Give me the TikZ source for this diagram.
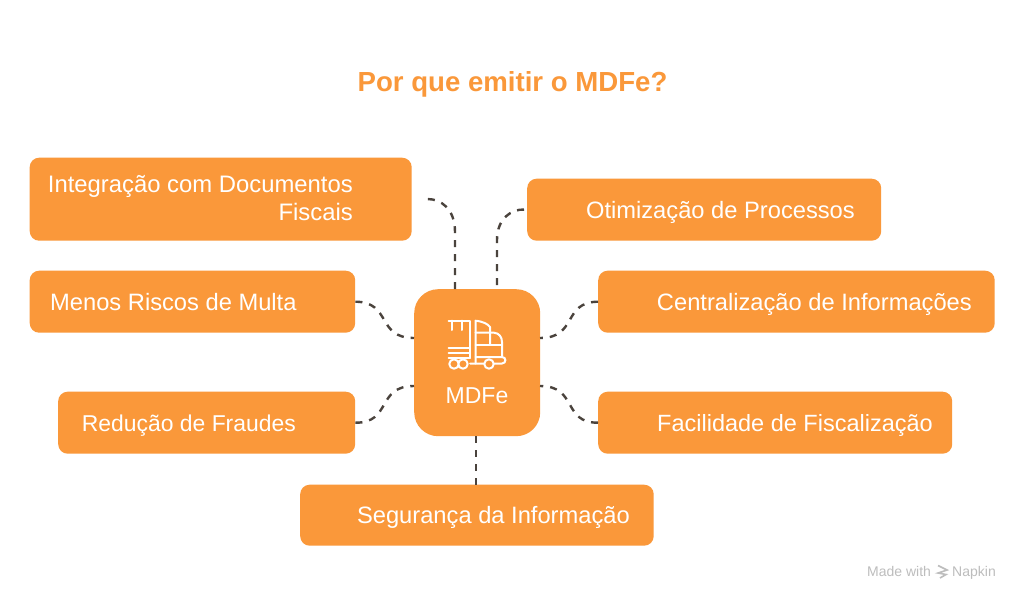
\documentclass[tikz,border=0pt]{standalone}
\usepackage{fontspec}
\setmainfont{Liberation Sans}
\definecolor{boxor}{HTML}{FA983A}
\definecolor{linedk}{HTML}{4A433D}
\definecolor{marktxt}{HTML}{BDBDBD}
\tikzset{
  boxnode/.style={fill=boxor,rounded corners=9.5pt,inner sep=0pt,anchor=north west},
  boxtext/.style={text=white,font=\fontsize{23.7}{28}\selectfont,inner sep=0pt,align=right},
  conn/.style={draw=linedk,line width=2.4pt,dash pattern=on 7pt off 7pt},
  iconline/.style={draw=white,line width=2pt,line join=round,line cap=round},
  marklabel/.style={text=marktxt,font=\fontsize{14}{16}\selectfont,inner sep=0pt,anchor=base west},
}
\begin{document}
\begin{tikzpicture}[x=1pt,y=-1pt]
\useasboundingbox (0,0) rectangle (1024,604);
\fill[white] (0,0) rectangle (1024,604);
\node[text=boxor,font=\bfseries\fontsize{27.6}{32}\selectfont,inner sep=0pt,anchor=base] (title) at (512.5,92) {Por que emitir o MDFe?};
% boxes
\node[boxnode,minimum width=382pt,minimum height=83pt] (integ) at (29.5,157.5) {};
\node[boxnode,minimum width=354pt,minimum height=62pt] (otim) at (527,178.5) {};
\node[boxnode,minimum width=325.5pt,minimum height=62pt] (menos) at (29.5,270.5) {};
\node[boxnode,minimum width=396.5pt,minimum height=62pt] (centr) at (598,270.5) {};
\node[boxnode,minimum width=297pt,minimum height=62pt] (redu) at (58,391.5) {};
\node[boxnode,minimum width=354pt,minimum height=62pt] (facil) at (598,391.5) {};
\node[boxnode,minimum width=353.5pt,minimum height=61pt] (segur) at (300,484.5) {};
\node[boxnode,minimum width=126pt,minimum height=147pt,rounded corners=24pt] (hub) at (414,289) {};
% labels
\node[boxtext,anchor=north east,font=\fontsize{23.85}{28}\selectfont] (tinteg) at (353,175) {Integração com Documentos\\Fiscais};
\node[boxtext,anchor=base east] (totim) at (855,218) {Otimização de Processos};
\node[boxtext,anchor=base west] (tmenos) at (50,310) {Menos Riscos de Multa};
\node[boxtext,anchor=base east] (tcentr) at (972,310) {Centralização de Informações};
\node[boxtext,anchor=base east,font=\fontsize{22.9}{28}\selectfont] (tredu) at (296,431) {Redução de Fraudes};
\node[boxtext,anchor=base east,font=\fontsize{23.5}{28}\selectfont] (tfacil) at (933,431) {Facilidade de Fiscalização};
\node[boxtext,anchor=base east] (tsegur) at (630,523) {Segurança da Informação};
\node[text=white,font=\fontsize{23}{28}\selectfont,inner sep=0pt,anchor=base] (thub) at (477,403) {MDFe};
% hub attachment points
\coordinate (hubtl) at (455,289);
\coordinate (hubtr) at (497,289);
\coordinate (hubl1) at (414,338);
\coordinate (hubl2) at (414,386);
\coordinate (hubr1) at (540,338);
\coordinate (hubr2) at (540,386);
\coordinate (hubb) at (476,436);
% connectors
\draw[conn,shorten <=16pt] (integ.east) .. controls (440,199) and (455,208) .. (455,232) -- (hubtl);
\draw[conn,shorten <=3pt] (otim.west) .. controls (512,209) and (497,218) .. (497,240) -- (hubtr);
\draw[conn] (menos.east) .. controls (392,302) and (376,338) .. (hubl1);
\draw[conn] (redu.east) .. controls (392,423) and (376,386) .. (hubl2);
\draw[conn] (centr.west) .. controls (562,302) and (578,338) .. (hubr1);
\draw[conn] (facil.west) .. controls (562,423) and (578,386) .. (hubr2);
\draw[conn] (segur.north -| hubb) -- (hubb);
% truck icon
\draw[iconline] (448.5,320.7) -- (470,320.7) -- (470,358);
\draw[iconline] (451.5,320.7) -- (451.5,330) (462,320.7) -- (462,330);
\draw[iconline] (448.5,348) -- (470,348) (448.5,353) -- (470,353) (448.5,358) -- (470,358);
\draw[iconline] (475.5,363.5) -- (475.5,320.7) .. controls (483,321.5) and (488,324) .. (490,327) -- (490,345);
\draw[iconline] (475.5,332.7) -- (494,332.7) .. controls (499,333) and (502,337) .. (502,342) -- (502,357);
\draw[iconline] (475.5,345) -- (502,345);
\draw[iconline] (470,363.5) -- (484,363.5) (494,363.5) -- (502,363.5) .. controls (506.5,363.5) and (506.5,357) .. (502,357) -- (475.5,357);
\draw[iconline,fill=boxor] (454,364) circle[radius=4.7pt] (463,364) circle[radius=4.7pt] (489,364) circle[radius=4.7pt];
% watermark
\node[marklabel] (made) at (867,576) {Made with};
\node[marklabel] (napkin) at (952,576) {Napkin};
\draw[marktxt,line width=1.6pt] (938,565.5) -- (947,570) -- (938,573) -- (946,574.5) -- (940,578);
\end{tikzpicture}
\end{document}
